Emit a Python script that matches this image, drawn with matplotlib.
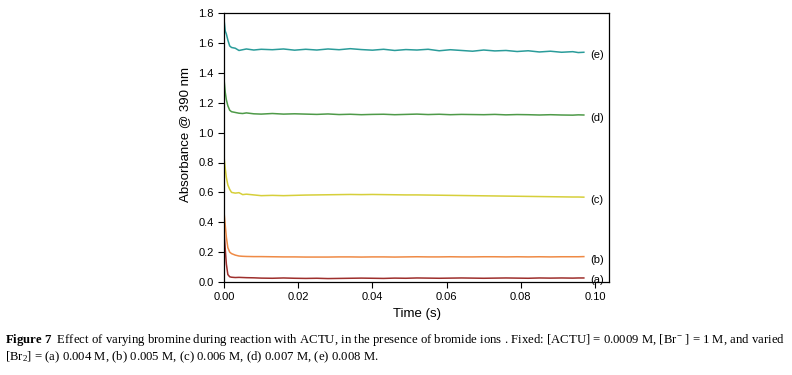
import matplotlib
matplotlib.use("Agg")
import matplotlib.pyplot as plt

plt.rcParams["mathtext.fontset"] = "custom"
plt.rcParams["mathtext.rm"] = "Liberation Serif"
plt.rcParams["mathtext.it"] = "Liberation Serif:italic"
plt.rcParams["mathtext.bf"] = "Liberation Serif:bold"

time_s = [0.0, 0.0003, 0.0006, 0.001, 0.0015, 0.002, 0.003, 0.004, 0.005, 0.006,
          0.008, 0.010, 0.013, 0.016, 0.019, 0.022, 0.025, 0.028, 0.031, 0.034,
          0.037, 0.040, 0.043, 0.046, 0.049, 0.052, 0.055, 0.058, 0.061, 0.064,
          0.067, 0.070, 0.073, 0.076, 0.079, 0.082, 0.085, 0.088, 0.091, 0.094,
          0.0955, 0.097]

abs_e = [1.75, 1.68, 1.66, 1.62, 1.58, 1.57, 1.565, 1.55, 1.555, 1.56,
         1.553, 1.558, 1.555, 1.56, 1.552, 1.558, 1.553, 1.56, 1.555, 1.562,
         1.556, 1.552, 1.558, 1.55, 1.556, 1.553, 1.558, 1.548, 1.555, 1.55,
         1.545, 1.553, 1.547, 1.55, 1.543, 1.548, 1.54, 1.545, 1.538, 1.542,
         1.536, 1.538]
abs_d = [1.35, 1.27, 1.22, 1.18, 1.15, 1.14, 1.135, 1.13, 1.128, 1.132,
         1.126, 1.124, 1.128, 1.124, 1.126, 1.124, 1.122, 1.125, 1.121, 1.123,
         1.12, 1.122, 1.123, 1.12, 1.122, 1.124, 1.121, 1.123, 1.12, 1.122,
         1.121, 1.12, 1.122, 1.119, 1.121, 1.12, 1.118, 1.12, 1.118, 1.117,
         1.119, 1.118]
abs_c = [0.83, 0.76, 0.70, 0.65, 0.62, 0.60, 0.595, 0.598, 0.585, 0.588,
         0.583, 0.578, 0.58, 0.578, 0.58, 0.582, 0.583, 0.584, 0.585, 0.586,
         0.585, 0.586, 0.585, 0.584, 0.583, 0.583, 0.582, 0.581, 0.58, 0.579,
         0.578, 0.577, 0.576, 0.575, 0.574, 0.573, 0.572, 0.571, 0.57, 0.569,
         0.569, 0.568]
abs_b = [0.46, 0.38, 0.30, 0.23, 0.20, 0.19, 0.18, 0.174, 0.172, 0.171,
         0.17, 0.17, 0.169, 0.168, 0.168, 0.167, 0.167, 0.167, 0.168, 0.168,
         0.167, 0.168, 0.168, 0.167, 0.168, 0.169, 0.168, 0.168, 0.169, 0.168,
         0.168, 0.169, 0.169, 0.168, 0.169, 0.168, 0.169, 0.168, 0.169, 0.169,
         0.169, 0.17]
abs_a = [0.33, 0.22, 0.12, 0.05, 0.035, 0.032, 0.03, 0.031, 0.03, 0.029,
         0.028, 0.026, 0.025, 0.027, 0.025, 0.024, 0.025, 0.023, 0.024, 0.025,
         0.026, 0.025, 0.024, 0.026, 0.025, 0.027, 0.026, 0.025, 0.026, 0.027,
         0.026, 0.025, 0.026, 0.027, 0.026, 0.025, 0.027, 0.026, 0.027, 0.026,
         0.027, 0.027]

series = [abs_a, abs_b, abs_c, abs_d, abs_e]
labels = ["(a)", "(b)", "(c)", "(d)", "(e)"]
colors = ["#9e2f2c", "#ef8a45", "#d6cf3a", "#4e9a48", "#2a9c9a"]

x_ticks = [0.00, 0.02, 0.04, 0.06, 0.08, 0.10]
y_ticks = [0.0, 0.2, 0.4, 0.6, 0.8, 1.0, 1.2, 1.4, 1.6, 1.8]

fig = plt.figure(figsize=(7.92, 3.75), dpi=100)
ax = fig.add_axes([0.283, 0.248, 0.486, 0.717])

for ys, lab, col in zip(series, labels, colors):
    ax.plot(time_s, ys, color=col, lw=1.1)
    ax.text(time_s[-1] + 0.0016, ys[-1] - (0.012 if lab == "(a)" else 0.02), lab,
            fontsize=8, va="center", ha="left", family="Liberation Sans")

ax.set_xlim(0, 0.1038)
ax.set_ylim(0, 1.8)
ax.set_xticks(x_ticks)
ax.set_xticklabels([f"{v:.2f}" for v in x_ticks], family="Liberation Sans", fontsize=8)
ax.set_yticks(y_ticks)
ax.set_yticklabels([f"{v:.1f}" for v in y_ticks], family="Liberation Sans", fontsize=8)
ax.tick_params(top=False, right=False, direction="out", length=4, width=0.8)
for s in ax.spines.values():
    s.set_linewidth(0.9)
ax.set_xlabel("Time (s)", family="Liberation Sans", fontsize=9.5, labelpad=4)
ax.set_ylabel("Absorbance @ 390 nm", family="Liberation Sans", fontsize=9.5)
ax.yaxis.set_label_coords(-0.085, 0.55)

fig.text(0.006, 0.093,
         r"$\mathbf{Figure\ 7}$  Effect of varying bromine during reaction with ACTU, in the presence of bromide ions . Fixed: [ACTU] = 0.0009 M, [Br$^{-}$ ] = 1 M, and varied",
         family="Liberation Serif", fontsize=9.2, ha="left", va="center")
fig.text(0.006, 0.048,
         r"[Br$_2$] = (a) 0.004 M, (b) 0.005 M, (c) 0.006 M, (d) 0.007 M, (e) 0.008 M.",
         family="Liberation Serif", fontsize=9.2, ha="left", va="center")

fig.savefig("out.png", dpi=100)
